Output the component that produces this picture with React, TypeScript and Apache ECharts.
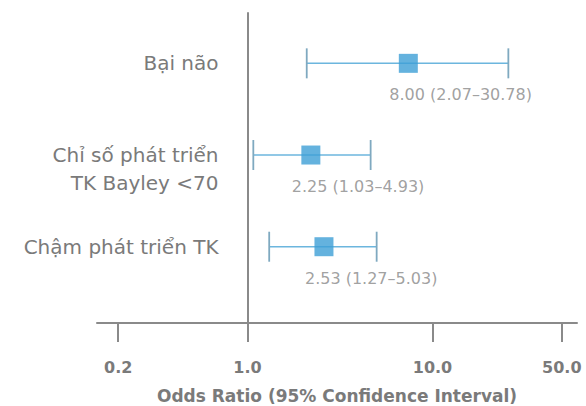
import React, { useEffect, useRef } from "react";
import * as echarts from "echarts";

// Row names (top to bottom)
const rowNames = ["Bại não", "Chỉ số phát triển\nTK Bayley <70", "Chậm phát triển TK"];
const rowLevels = [3, 2, 1];

// Printed estimates
const orPrinted = ["8.00", "2.25", "2.53"];
const ciLowPrinted = ["2.07", "1.03", "1.27"];
const ciHighPrinted = ["30.78", "4.93", "5.03"];

// Positions of the marks (odds ratio scale)
const orPlot = [7.4, 2.2, 2.59];
const loPlot = [2.09, 1.075, 1.31];
const hiPlot = [25.7, 4.63, 4.99];

// Axis ticks
const xTicks = [0.2, 1.0, 10.0, 50.0];

const GRAY = "#8a8a8a";
const TEXT = "#7a7a7a";

export default function App() {
  const ref = useRef<HTMLDivElement>(null);
  useEffect(() => {
    if (!ref.current) return;
    const chart = echarts.init(ref.current, null, { renderer: "svg" });
    const lg = (v: number) => Math.log10(v);
    const tickPos = xTicks.map(lg);
    const gridLeft = 97;
    const gridRight = 9;
    const xMin = -0.8135;
    const xMax = 1.781;
    // y axis sits at odds ratio 1.0 (log value 0)
    const plotW = 586 - gridLeft - gridRight;
    const yAxisShift = ((0 - xMin) / (xMax - xMin)) * plotW;

    const whiskerData = rowLevels.map((y, i) => [lg(loPlot[i]), lg(hiPlot[i]), y]);
    const pointData = rowLevels.map((y, i) => ({
      value: [lg(orPlot[i]), y],
      label: {
        formatter: `${orPrinted[i]} (${ciLowPrinted[i]}–${ciHighPrinted[i]})`,
      },
    }));

    chart.setOption({
      animation: false,
      grid: {
        left: gridLeft,
        right: gridRight,
        top: 13,
        bottom: 83,
        containLabel: false,
        outerBoundsMode: "none",
      },
      xAxis: {
        type: "value",
        min: xMin,
        max: xMax,
        splitLine: { show: false },
        axisLine: { show: true, onZero: false, lineStyle: { color: GRAY, width: 2 } },
        axisTick: {
          show: true,
          customValues: tickPos,
          length: 19,
          lineStyle: { color: GRAY, width: 2 },
        },
        axisLabel: {
          customValues: tickPos,
          margin: 36,
          formatter: (v: number) => Math.pow(10, v).toFixed(1),
          fontFamily: "DejaVu Sans",
          fontWeight: "bold",
          fontSize: 16,
          color: TEXT,
          hideOverlap: false,
        },
        name: "Odds Ratio (95% Confidence Interval)",
        nameLocation: "middle",
        nameGap: 64,
        nameTextStyle: {
          fontFamily: "DejaVu Sans",
          fontWeight: "bold",
          fontSize: 17,
          color: TEXT,
        },
      },
      yAxis: {
        type: "value",
        min: 0.168,
        max: 3.549,
        offset: -yAxisShift,
        splitLine: { show: false },
        axisLine: { show: true, onZero: false, lineStyle: { color: GRAY, width: 2 } },
        axisTick: { show: false },
        axisLabel: {
          customValues: rowLevels,
          margin: 29,
          formatter: (v: number) => {
            const idx = rowLevels.indexOf(Math.round(v));
            if (idx < 0) return "";
            const name = rowNames[idx];
            const lines = name.split("\n");
            return lines.length > 1 ? " \n" + name : name;
          },
          fontFamily: "DejaVu Sans",
          fontSize: 20,
          lineHeight: 28,
          color: TEXT,
          align: "right",
        },
      },
      series: [
        {
          type: "custom",
          data: whiskerData,
          renderItem: (params: any, api: any) => {
            const p1 = api.coord([api.value(0), api.value(2)]);
            const p2 = api.coord([api.value(1), api.value(2)]);
            const cap = 15;
            const lineStyle = { stroke: "#6cb6de", lineWidth: 1.5 };
            const capStyle = { stroke: "#7fa9c0", lineWidth: 1.8 };
            return {
              type: "group",
              children: [
                { type: "line", shape: { x1: p1[0], y1: p1[1], x2: p2[0], y2: p2[1] }, style: lineStyle },
                { type: "line", shape: { x1: p1[0], y1: p1[1] - cap, x2: p1[0], y2: p1[1] + cap }, style: capStyle },
                { type: "line", shape: { x1: p2[0], y1: p2[1] - cap, x2: p2[0], y2: p2[1] + cap }, style: capStyle },
              ],
            };
          },
          z: 2,
        },
        {
          type: "scatter",
          data: pointData,
          symbol: "rect",
          symbolSize: 19,
          itemStyle: { color: "#3d9fd6" },
          label: {
            show: true,
            position: [-9.5, 41],
            align: "left",
            verticalAlign: "middle",
            fontFamily: "DejaVu Sans",
            fontSize: 16,
            color: "#888888",
          },
          z: 3,
        },
      ],
    });
    return () => chart.dispose();
  }, []);
  return <div ref={ref} style={{ width: 586, height: 406, position: "absolute", left: 0, top: 0 }} />;
}
